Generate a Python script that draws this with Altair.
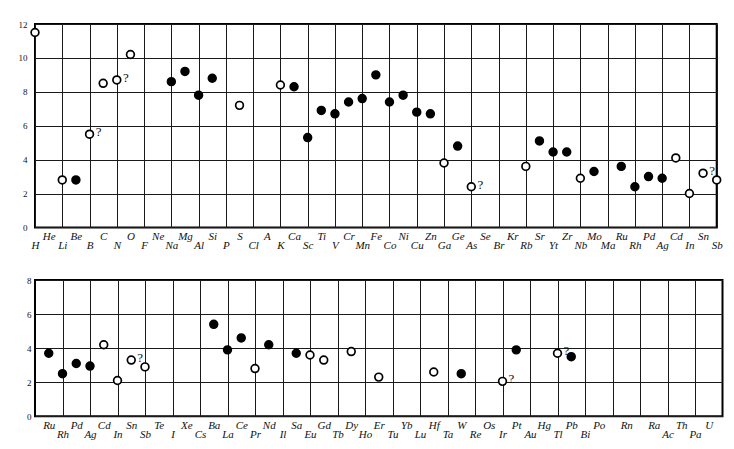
import altair as alt
import pandas as pd

# ---------- data ----------
top_z = [1, 3, 4, 5, 6, 7, 8, 11, 12, 13, 14, 16, 19, 20, 21, 22, 23, 24, 25, 26, 27, 28, 29, 30,
         31, 32, 33, 37, 38, 39, 40, 41, 42, 44, 45, 46, 47, 48, 49, 50, 51]
top_v = [11.5, 2.8, 2.8, 5.5, 8.5, 8.7, 10.2, 8.6, 9.2, 7.8, 8.8, 7.2, 8.4, 8.3, 5.3, 6.9, 6.7, 7.4, 7.6, 9.0,
         7.4, 7.8, 6.8, 6.7, 3.8, 4.8, 2.4, 3.6, 5.1, 4.45, 4.45, 2.9, 3.3, 3.6, 2.4, 3.0, 2.9, 4.1, 2.0, 3.2, 2.8]
top_kind = ["open", "open", "filled", "open", "open", "open", "open", "filled", "filled", "filled", "filled",
            "open", "open", "filled", "filled", "filled", "filled", "filled", "filled", "filled", "filled",
            "filled", "filled", "filled", "open", "filled", "open", "open", "filled", "filled", "filled",
            "open", "filled", "filled", "filled", "filled", "filled", "open", "open", "open", "open"]
top_q = [5, 7, 33, 50]

bot_z = [44, 45, 46, 47, 48, 49, 50, 51, 56, 57, 58, 59, 60, 62, 63, 64, 66, 68, 72, 74, 77, 78, 81, 82]
bot_v = [3.7, 2.5, 3.1, 2.95, 4.2, 2.1, 3.3, 2.9, 5.4, 3.9, 4.6, 2.8, 4.2, 3.7, 3.6, 3.3, 3.8, 2.3, 2.6, 2.5,
         2.05, 3.9, 3.7, 3.5]
bot_kind = ["filled", "filled", "filled", "filled", "open", "open", "open", "open", "filled", "filled", "filled",
            "open", "filled", "filled", "open", "open", "open", "open", "open", "filled", "open", "filled",
            "open", "filled"]
bot_q = [50, 77, 81]

top_labels = ["H", "He", "Li", "Be", "B", "C", "N", "O", "F", "Ne", "Na", "Mg", "Al", "Si", "P", "S", "Cl", "A",
              "K", "Ca", "Sc", "Ti", "V", "Cr", "Mn", "Fe", "Co", "Ni", "Cu", "Zn", "Ga", "Ge", "As", "Se", "Br",
              "Kr", "Rb", "Sr", "Yt", "Zr", "Nb", "Mo", "Ma", "Ru", "Rh", "Pd", "Ag", "Cd", "In", "Sn", "Sb"]
bot_labels = ["Ru", "Rh", "Pd", "Ag", "Cd", "In", "Sn", "Sb", "Te", "I", "Xe", "Cs", "Ba", "La", "Ce", "Pr",
              "Nd", "Il", "Sa", "Eu", "Gd", "Tb", "Dy", "Ho", "Er", "Tu", "Yb", "Lu", "Hf", "Ta", "W", "Re",
              "Os", "Ir", "Pt", "Au", "Hg", "Tl", "Pb", "Bi", "Po", "", "Rn", "", "Ra", "Ac", "Th", "Pa", "U"]

top_yticks = [0, 2, 4, 6, 8, 10, 12]
bot_yticks = [0, 2, 4, 6, 8]

SERIF = "Liberation Serif"
INK = "#111111"


def panel(z, v, kind, qs, labels, lab_first, dom, yticks, w, h, extent, ypad):
    df = pd.DataFrame({"z": z, "v": v, "kind": kind})
    df["q"] = df["z"].isin(qs)
    arr = "[" + ",".join("'" + s + "'" for s in labels) + "]"
    xaxis = alt.Axis(
        values=list(range(lab_first, lab_first + len(labels))),
        labelExpr=f"{arr}[datum.value - {lab_first}]",
        labelFont=SERIF, labelFontStyle="italic", labelFontSize=11, labelColor=INK,
        labelPadding={"condition": {"test": "datum.value % 2 == 1", "value": 12}, "value": 3},
        labelBaseline="top", labelAngle=0, labelOverlap=False, labelFlush=False,
        ticks=False, domain=False, title=None,
        grid=True, gridColor="#1a1a1a", gridWidth=1,
        gridOpacity={"condition": {"test": "datum.value % 2 == 0", "value": 0}, "value": 1},
    )
    yaxis = alt.Axis(
        values=yticks, labelFont=SERIF, labelFontSize=9, labelColor=INK, labelPadding=ypad,
        ticks=False, domain=False, title=None, grid=True, gridColor="#1a1a1a", gridWidth=1,
        minExtent=extent, maxExtent=extent,
    )
    x = alt.X("z:Q", scale=alt.Scale(domain=dom, nice=False, zero=False), axis=xaxis)
    y = alt.Y("v:Q", scale=alt.Scale(domain=[min(yticks), max(yticks)], nice=False), axis=yaxis)
    base = alt.Chart(df)
    pts = base.mark_point(shape="circle", size=60, stroke="black", strokeWidth=1.7, opacity=1,
                          filled=True).encode(
        x=x, y=y,
        fill=alt.Fill("kind:N", scale=alt.Scale(domain=["open", "filled"], range=["white", "black"]),
                      legend=None),
    )
    qm = base.transform_filter("datum.q").mark_text(
        text="?", font=SERIF, fontSize=13, dx=9, dy=-2, fill=INK, color=INK
    ).encode(x=x, y=y)
    return alt.layer(pts, qm).properties(width=w, height=h)


top = panel(top_z, top_v, top_kind, top_q, top_labels, 1, [1, 51], top_yticks, 681.7, 203.4, 26, 8)
bot = panel(bot_z, bot_v, bot_kind, bot_q, bot_labels, 44, [43, 93], bot_yticks, 687.5, 136.3, 22.8, 4)

chart = alt.concat(top, bot, columns=1, spacing=23, align="none").properties(
    padding={"left": 0, "top": 11, "right": 0, "bottom": 0}
).configure_view(stroke="black", strokeWidth=2)

chart.save("out.html", embed_options={"renderer": "svg", "actions": False})
